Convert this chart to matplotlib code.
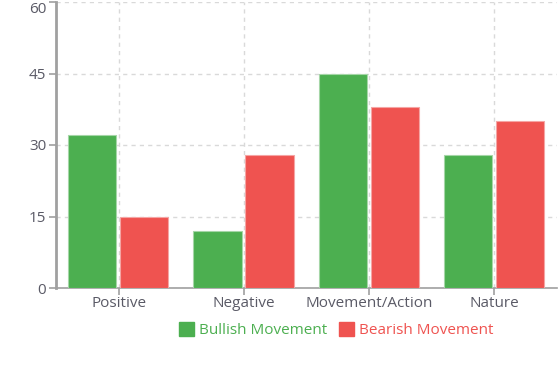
import matplotlib
matplotlib.use('Agg')
import matplotlib.pyplot as plt
import numpy as np
from matplotlib.patches import Patch

# data
categories = ['Positive', 'Negative', 'Movement/Action', 'Nature']
bullish = [32, 12, 45, 28]
bearish = [15, 28, 38, 35]
yticks = [0, 15, 30, 45, 60]

green = '#4CAF50'
red = '#EF5350'
txt = '#5a5a66'
plt.rcParams['font.family'] = ['Open Sans', 'DejaVu Sans']

W, H = 559, 390
fig = plt.figure(figsize=(W / 100, H / 100), dpi=100)
ax = fig.add_axes([56 / W, (H - 288) / H, 501 / W, 286 / H])

x = np.arange(len(categories))
ax.bar(x - 0.21, bullish, width=0.385, color=green, edgecolor='#a5d6a7', linewidth=0.8, zorder=3)
ax.bar(x + 0.205, bearish, width=0.385, color=red, edgecolor='#f5a5a4', linewidth=0.8, zorder=3)

ax.set_xlim(-0.5, 3.5)
ax.set_ylim(0, 60)
ax.set_yticks(yticks)
ax.set_xticks(x)
ax.set_xticklabels(categories)

ax.grid(True, color='#d9d9d9', linestyle=(0, (3, 3)), linewidth=1, zorder=0)
for s in ['top', 'right']:
    ax.spines[s].set_visible(False)
ax.spines['left'].set_color('#a0a0a0')
ax.spines['left'].set_linewidth(2)
ax.spines['bottom'].set_color('#a0a0a0')
ax.spines['bottom'].set_linewidth(1.2)
ax.tick_params(axis='both', colors='#a0a0a0', labelcolor=txt, labelsize=11, length=5, width=1.2)
ax.tick_params(axis='y', pad=2)
ax.tick_params(axis='x', pad=1)
# top label pushed down so it fits inside the figure
ax.get_yticklabels()[-1].set_va('top')
ax.get_yticklabels()[-1].set_y(59.5)

handles = [Patch(color=green), Patch(color=red)]
leg = fig.legend(handles, ['Bullish Movement', 'Bearish Movement'], loc='center',
                 bbox_to_anchor=(336 / W, 1 - 330 / H), ncol=2, frameon=False,
                 fontsize=11, handlelength=1.0, handleheight=1.0, handletextpad=0.3,
                 columnspacing=0.8)
for t, c in zip(leg.get_texts(), [green, red]):
    t.set_color(c)

fig.savefig('out.png', dpi=100)
